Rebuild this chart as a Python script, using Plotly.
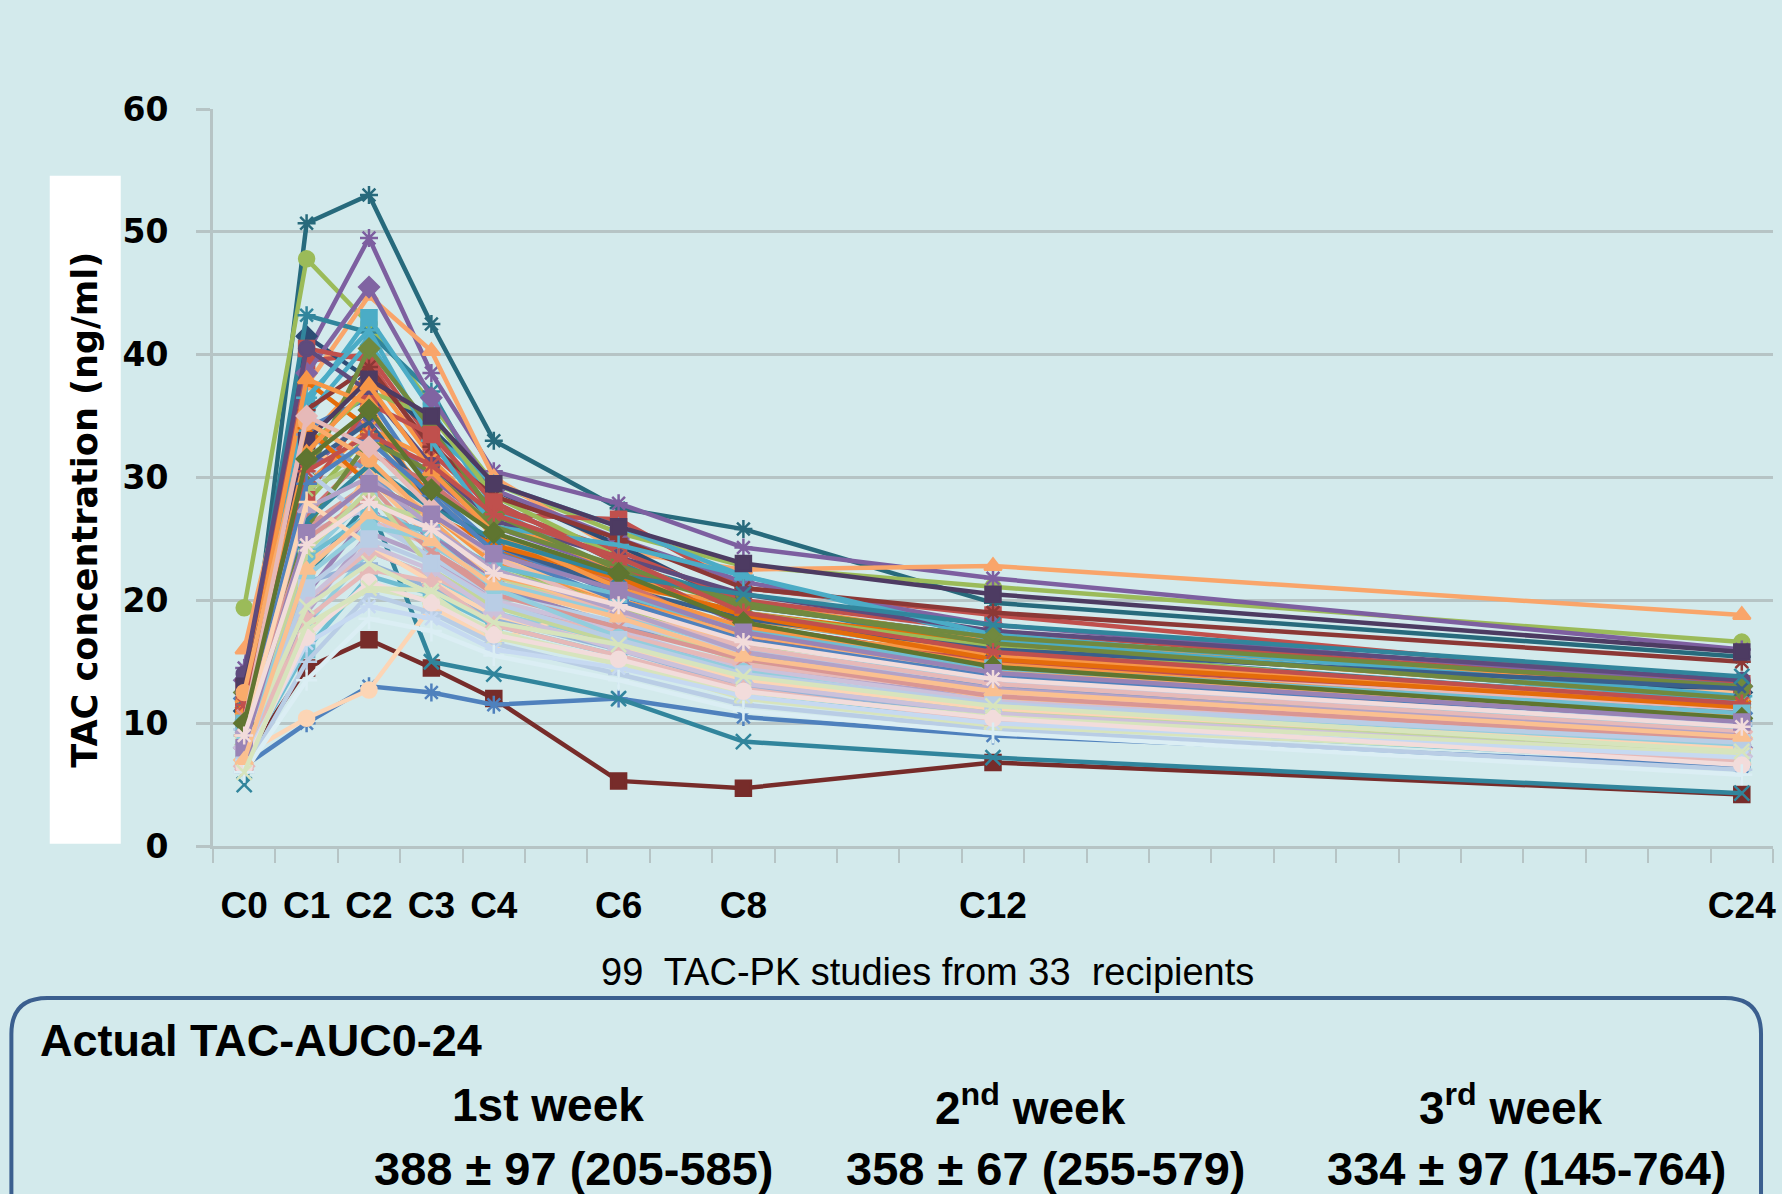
import plotly.graph_objects as go

# ---------------- data ----------------
sample_hours = [0, 1, 2, 3, 4, 6, 8, 12, 24]
tick_labels = ["C0", "C1", "C2", "C3", "C4", "C6", "C8", "C12", "C24"]
y_ticks = [0, 10, 20, 30, 40, 50, 60]

# TAC concentration (ng/ml) at C0..C24, one row per PK study
week1_profiles = [
    [9.5, 50.7, 53.0, 42.5, 33.0, 27.5, 25.8, 19.8, 15.4],
    [19.4, 47.8, 42.5, 36.0, 29.5, 25.5, 22.8, 21.1, 16.6],
    [14.5, 40.0, 49.5, 38.5, 30.5, 27.9, 24.3, 21.8, 16.0],
    [16.0, 37.5, 44.8, 40.3, 30.0, 24.0, 22.5, 22.8, 18.8],
    [7.0, 14.5, 16.8, 14.5, 12.0, 5.3, 4.7, 6.8, 4.2],
    [6.5, 10.0, 13.0, 12.5, 11.5, 12.0, 10.5, 9.0, 6.5],
    [5.0, 22.0, 28.0, 15.0, 14.0, 12.0, 8.5, 7.2, 4.3],
    [13.0, 39.5, 40.0, 33.0, 27.0, 26.6, 21.0, 18.8, 13.2],
    [11.0, 41.5, 38.0, 34.0, 29.0, 24.5, 19.5, 17.0, 12.5],
    [12.5, 43.2, 41.8, 37.0, 28.0, 23.0, 20.0, 16.0, 11.5],
    [10.0, 36.0, 43.0, 35.5, 27.5, 22.0, 18.5, 15.5, 11.8],
    [9.0, 33.0, 38.5, 31.6, 25.0, 21.0, 19.8, 16.8, 12.8],
    [11.5, 37.8, 34.0, 28.5, 24.0, 21.5, 19.0, 16.5, 12.0],
    [12.0, 34.0, 36.5, 29.0, 24.5, 20.5, 17.0, 14.5, 10.8],
    [8.5, 28.0, 33.5, 27.5, 23.0, 19.5, 16.0, 13.0, 9.5],
    [10.5, 30.5, 35.0, 30.0, 26.0, 22.5, 18.0, 15.0, 11.0],
    [6.0, 18.0, 24.0, 22.0, 19.0, 16.5, 13.5, 11.0, 7.5],
    [9.5, 26.0, 29.5, 24.0, 21.0, 18.0, 15.5, 12.5, 9.0],
    [8.0, 32.4, 30.0, 25.0, 22.0, 19.0, 17.5, 13.6, 12.5],
    [7.5, 10.4, 12.7, 19.5, 16.7, 20.0, 15.0, 13.5, 10.0],
    [13.5, 38.5, 45.5, 36.5, 29.0, 25.0, 21.5, 18.0, 13.0],
    [11.0, 40.5, 39.5, 32.0, 27.5, 24.0, 20.0, 17.5, 12.8],
    [10.5, 35.0, 41.0, 33.5, 29.5, 26.0, 22.0, 16.8, 11.8],
    [12.0, 32.5, 37.0, 35.0, 28.5, 23.5, 19.0, 16.2, 11.0],
    [9.0, 29.5, 34.0, 31.5, 26.5, 22.5, 18.5, 15.6, 11.4],
]
week2_profiles = [
    [13.5, 35.5, 39.0, 32.5, 28.5, 25.0, 21.0, 19.0, 15.0],
    [14.0, 40.5, 37.0, 31.0, 26.5, 23.5, 20.5, 17.5, 13.5],
    [10.0, 36.5, 42.0, 33.0, 26.0, 24.5, 22.0, 17.2, 12.2],
    [12.5, 30.0, 40.5, 34.0, 27.0, 22.5, 19.5, 17.0, 13.0],
    [11.5, 28.5, 36.0, 33.5, 28.0, 23.0, 18.0, 15.0, 11.0],
    [12.0, 38.0, 36.0, 27.0, 23.0, 20.0, 17.5, 15.5, 11.5],
    [11.0, 31.0, 34.5, 28.0, 24.5, 21.0, 18.5, 16.0, 12.8],
    [10.0, 29.0, 31.5, 26.0, 22.5, 19.5, 16.5, 14.0, 10.5],
    [8.5, 27.0, 32.0, 29.5, 25.5, 21.5, 17.0, 13.5, 10.0],
    [9.5, 33.5, 30.5, 25.5, 21.0, 18.0, 15.5, 13.0, 9.8],
    [8.0, 20.5, 27.0, 25.5, 21.5, 17.5, 14.0, 11.5, 8.0],
    [7.0, 16.0, 22.0, 20.5, 18.0, 15.5, 12.5, 10.0, 6.8],
    [6.5, 19.0, 25.5, 23.5, 20.0, 17.0, 14.5, 12.0, 8.5],
    [9.0, 24.5, 28.0, 26.5, 22.0, 18.5, 15.0, 12.5, 9.5],
    [7.5, 21.5, 23.0, 21.0, 18.5, 16.0, 13.0, 10.5, 7.8],
    [10.5, 23.0, 26.5, 24.5, 21.5, 19.0, 16.5, 14.5, 11.2],
    [6.0, 15.0, 20.5, 19.0, 16.5, 14.0, 11.5, 9.5, 6.2],
    [7.0, 22.5, 30.5, 27.0, 23.5, 20.0, 16.0, 12.0, 8.8],
    [8.0, 25.5, 27.5, 23.0, 20.0, 17.5, 14.5, 11.8, 8.3],
    [9.0, 17.5, 21.0, 20.0, 17.5, 15.0, 12.0, 9.8, 7.0],
    [8.5, 26.0, 33.0, 30.5, 26.0, 22.8, 19.8, 16.5, 12.0],
    [11.0, 34.0, 29.5, 27.0, 24.5, 21.8, 18.8, 15.2, 11.3],
    [7.5, 23.5, 28.5, 24.5, 21.5, 18.8, 16.0, 13.5, 9.6],
    [9.5, 30.5, 26.5, 23.5, 20.5, 18.2, 15.8, 13.3, 9.9],
    [6.5, 20.0, 24.0, 22.0, 19.5, 17.2, 14.8, 12.4, 8.7],
]
week3_profiles = [
    [13.0, 33.0, 38.0, 35.0, 29.5, 26.0, 23.0, 20.5, 15.8],
    [11.0, 32.0, 37.5, 30.5, 25.5, 21.0, 17.8, 14.8, 10.5],
    [12.0, 26.5, 31.0, 27.5, 25.0, 22.0, 20.5, 18.0, 13.8],
    [11.5, 30.5, 33.5, 31.0, 27.0, 23.5, 19.0, 15.8, 11.6],
    [12.5, 34.5, 31.5, 26.5, 22.0, 19.8, 17.2, 14.2, 10.6],
    [9.0, 29.5, 33.0, 28.5, 24.0, 20.0, 16.8, 13.8, 10.2],
    [10.0, 35.0, 32.5, 27.5, 23.5, 19.0, 16.2, 13.2, 9.3],
    [10.0, 23.5, 27.0, 25.5, 22.8, 20.5, 17.5, 14.5, 10.8],
    [9.5, 27.5, 30.0, 26.0, 22.5, 19.2, 15.8, 12.8, 9.0],
    [10.5, 25.0, 28.5, 24.0, 20.5, 17.8, 15.2, 12.2, 8.6],
    [7.5, 24.0, 29.0, 22.5, 19.5, 16.5, 13.8, 11.0, 7.6],
    [8.5, 22.0, 26.0, 25.0, 21.0, 17.0, 14.2, 11.3, 8.1],
    [9.0, 28.0, 24.5, 21.5, 18.8, 16.2, 13.5, 11.2, 7.9],
    [8.0, 20.0, 24.5, 22.5, 19.0, 16.0, 13.2, 10.8, 7.3],
    [7.0, 21.0, 25.0, 23.0, 19.8, 16.8, 14.0, 11.6, 8.4],
    [6.5, 18.5, 22.5, 21.5, 18.0, 15.5, 12.8, 10.2, 6.9],
    [8.0, 19.5, 23.0, 20.5, 17.0, 14.8, 12.5, 10.5, 7.4],
    [7.0, 16.5, 19.5, 18.5, 16.0, 14.5, 12.2, 10.0, 7.2],
    [6.5, 17.0, 21.5, 19.8, 17.2, 15.2, 12.6, 10.4, 6.6],
    [6.0, 13.5, 18.5, 17.5, 15.5, 13.5, 11.0, 9.2, 5.8],
    [10.0, 31.5, 35.5, 29.0, 25.5, 22.2, 18.2, 14.6, 10.4],
    [8.0, 25.5, 29.5, 27.0, 23.8, 20.8, 17.4, 14.1, 10.1],
    [7.0, 22.5, 27.0, 24.8, 21.2, 18.6, 15.4, 12.6, 8.9],
    [6.0, 18.0, 21.0, 20.8, 18.2, 16.4, 13.8, 11.4, 7.7],
    [9.0, 24.5, 28.0, 25.8, 22.2, 19.6, 16.6, 13.6, 9.7],
]

auc_weeks = ["1st week", "2<sup>nd</sup> week", "3<sup>rd</sup> week"]
auc_mean = [388, 358, 334]
auc_sd = [97, 67, 97]
auc_range = ["205-585", "255-579", "145-764"]

# ---------------- styles ----------------
week1_colors = ["#276A7C", "#9BBB59", "#7D5FA0", "#F9A56A", "#772C2A", "#4F81BD",
                "#31859C", "#C0504D", "#2C4D75", "#31859C", "#4BACC6", "#F79646",
                "#E46C0A", "#4F81BD", "#9BBB59", "#8064A2", "#93CDDD", "#D99694",
                "#FAC090", "#FCD5B5",
                "#8064A2", "#C0504D", "#4BACC6", "#9BBB59", "#F79646"]
week2_colors = ["#8C3836", "#5E4B7D", "#4BACC6", "#71893F", "#C0504D", "#F79646",
                "#3A5F8B", "#AFC97A", "#CD7371", "#729ACA", "#9983B5", "#6FBDD1",
                "#B3A2C7", "#C3D69B", "#95B3D7", "#E6B9B8", "#B9CDE5", "#FAC090",
                "#CCC1DA", "#D7E4BD",
                "#71893F", "#E46C0A", "#93CDDD", "#B9CDE5", "#E6B9B8"]
week3_colors = ["#4D3B62", "#F79646", "#31859C", "#C0504D", "#F9AB6B", "#4F81BD",
                "#E6B9B8", "#6FBDD1", "#B3A2C7", "#D99694", "#C3D69B", "#93CDDD",
                "#FCD5B5", "#CCC1DA", "#B9CDE5", "#E6B9B8", "#D7E4BD", "#C6D9F1",
                "#F2DCDB", "#DBEEF4",
                "#5F7530", "#9983B5", "#FAC090", "#D7E4BD", "#F2DCDB"]
symbols = ["diamond", "square", "triangle-up", "x-thin-open", "asterisk-open",
           "circle", "cross-thin-open"]
week1_symbols = ["asterisk-open", "circle", "asterisk-open", "triangle-up", "square",
                 "asterisk-open", "x-thin-open", "square", "diamond", "asterisk-open",
                 "square", "circle", "triangle-up", "diamond", "triangle-up",
                 "x-thin-open", "asterisk-open", "square", "circle", "circle",
                 "diamond", "square", "triangle-up", "circle", "x-thin-open"]

BG = "#d3eaec"
GRID = "#b6c4c5"
NARROW = "Liberation Sans Narrow, Liberation Sans"

fig = go.Figure()
groups = [(week1_profiles, week1_colors), (week2_profiles, week2_colors),
          (week3_profiles, week3_colors)]
k = 0
for gi, (profiles, colors) in enumerate(groups):
    for i, prof in enumerate(profiles):
        sym = week1_symbols[i] if gi == 0 else symbols[k % len(symbols)]
        col = colors[i]
        fig.add_trace(go.Scatter(
            x=sample_hours, y=prof, mode="lines+markers",
            line=dict(color=col, width=4.5),
            marker=dict(symbol=sym, size=15, color=col,
                        line=dict(color=col, width=2.5)),
            showlegend=False, hoverinfo="skip"))
        k += 1

# ---------------- layout ----------------
L, R, T, B = 213, 6, 109, 348
W, H = 1782, 1194
pw, ph = W - L - R, H - T - B


def px(xp):
    return (xp - L) / pw


def py(yp):
    return (H - B - yp) / ph


fig.update_layout(
    width=W, height=H,
    margin=dict(l=L, r=R, t=T, b=B, pad=0),
    paper_bgcolor=BG, plot_bgcolor=BG,
    xaxis=dict(range=[-0.5, 24.5], tickvals=sample_hours, ticktext=tick_labels,
               ticks="", showgrid=False, zeroline=False,
               showline=True, linecolor=GRID, linewidth=3,
               minor=dict(tick0=-0.5, dtick=1, ticks="outside", ticklen=14,
                          tickcolor=GRID, tickwidth=2, showgrid=False),
               tickfont=dict(family=NARROW, size=37, color="black", weight="bold"),
               ticklabelstandoff=25, ticklabeloverflow="allow"),
    yaxis=dict(range=[0, 60], tickvals=y_ticks, ticks="outside", ticklen=14,
               tickcolor=GRID, tickwidth=3, showgrid=True, gridcolor=GRID,
               gridwidth=3, zeroline=False, showline=True, linecolor=GRID,
               linewidth=3,
               tickfont=dict(family="DejaVu Sans", size=33, color="black",
                             weight="bold"),
               ticklabelstandoff=21),
)

annotations = [
    dict(text="TAC concentration (ng/ml)", x=px(85), y=py(510), xref="paper",
         yref="paper", showarrow=False, textangle=-90, bgcolor="white",
         width=665, height=68, xanchor="center", yanchor="middle",
         font=dict(family="DejaVu Sans", size=35, color="black", weight="bold")),
    dict(text="99  TAC-PK studies from 33  recipients", x=px(929), y=py(972),
         xref="paper", yref="paper", showarrow=False, xanchor="center",
         yanchor="middle",
         font=dict(family="Liberation Sans", size=38, color="black")),
    dict(text="Actual TAC-AUC0-24", x=px(38), y=py(1040), xref="paper",
         yref="paper", showarrow=False, xanchor="left", yanchor="middle",
         font=dict(family=NARROW, size=45, color="black", weight="bold")),
]
week_x = [549, 1032, 1513]
val_x = [574, 1047, 1529]
for i in range(3):
    annotations.append(dict(
        text=auc_weeks[i], x=px(week_x[i]), y=py(1105), xref="paper", yref="paper",
        showarrow=False, xanchor="center", yanchor="middle",
        font=dict(family=NARROW, size=46, color="black", weight="bold")))
    annotations.append(dict(
        text=f"{auc_mean[i]} ± {auc_sd[i]} ({auc_range[i]})", x=px(val_x[i]),
        y=py(1168), xref="paper", yref="paper", showarrow=False,
        xanchor="center", yanchor="middle",
        font=dict(family=NARROW, size=47, color="black", weight="bold")))
fig.update_layout(annotations=annotations)

# rounded summary box
x0, x1 = px(11), px(1764)
yt, yb = py(998), py(1260)
rx, ry = 36 / pw, 36 / ph
path = (f"M {x0+rx},{yt} L {x1-rx},{yt} Q {x1},{yt} {x1},{yt-ry} L {x1},{yb} "
        f"L {x0},{yb} L {x0},{yt-ry} Q {x0},{yt} {x0+rx},{yt} Z")
fig.add_shape(type="path", path=path, xref="paper", yref="paper",
              line=dict(color="#3b5f8f", width=4), fillcolor="rgba(0,0,0,0)")

fig.write_html("out.html", config={"displayModeBar": False},
               post_script="document.body.style.margin='0';")
